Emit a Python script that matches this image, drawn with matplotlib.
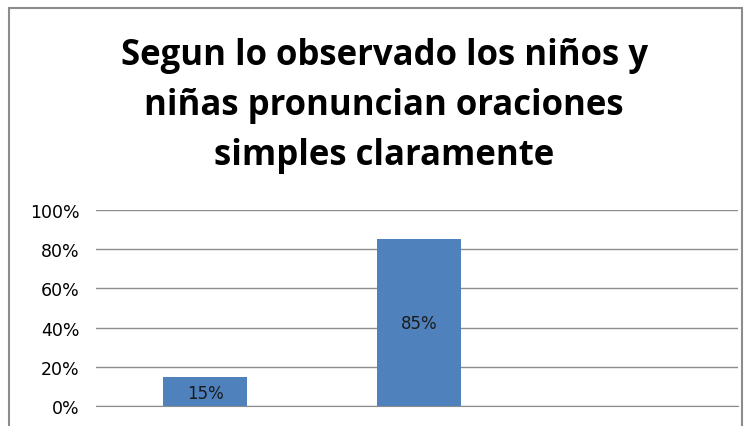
import matplotlib as mplt
mplt.use("Agg")
import matplotlib.pyplot as plt
from matplotlib.patches import Rectangle

# data
categories = ["1", "2", "3"]
values = [0.15, 0.85, None]
bar_labels = ["15%", "85%", ""]
yticks = [0, 0.2, 0.4, 0.6, 0.8, 1.0]
ytick_labels = ["0%", "20%", "40%", "60%", "80%", "100%"]
title = "Segun lo observado los niños y\nniñas pronuncian oraciones\nsimples claramente"

fig = plt.figure(figsize=(7.48, 4.27), dpi=100)

# chart frame (gray border, bottom cut off)
fig.patches.append(Rectangle((9 / 748, -0.1), (742 - 9) / 748, 1.1 - 9 / 427,
                             transform=fig.transFigure, fill=False,
                             edgecolor="#8c8c8c", linewidth=1.5))

ax = fig.add_axes([96 / 748, 1 - 407 / 427, (738 - 96) / 748, (407 - 211) / 427])

xs = list(range(len(categories)))
for i, v in enumerate(values):
    if v is None:
        continue
    ax.bar(xs[i] + 0.01, v, width=0.39, color="#4f81bd", zorder=3)
    ax.text(xs[i] + 0.01, v / 2 if v > 0.3 else v / 2 - 0.01, bar_labels[i],
            ha="center", va="center", fontsize=12, color="#1a1a1a", zorder=4)

ax.set_xlim(-0.5, len(categories) - 0.5)
ax.set_ylim(0, 1.0)
ax.set_yticks(yticks)
ax.set_yticklabels(ytick_labels, fontsize=12.5)
ax.set_xticks([])
ax.tick_params(axis="y", length=0, pad=12)
ax.grid(axis="y", color="#8c8c8c", linewidth=1, zorder=0)
for s in ["top", "right", "left"]:
    ax.spines[s].set_visible(False)
ax.spines["bottom"].set_color("#8c8c8c")

fig.text(384 / 748, 1 - 106 / 427, title, ha="center", va="center",
         fontsize=25, fontweight="bold", linespacing=1.5,
         family=["Open Sans", "DejaVu Sans"])

plt.savefig("out.png", dpi=100)
